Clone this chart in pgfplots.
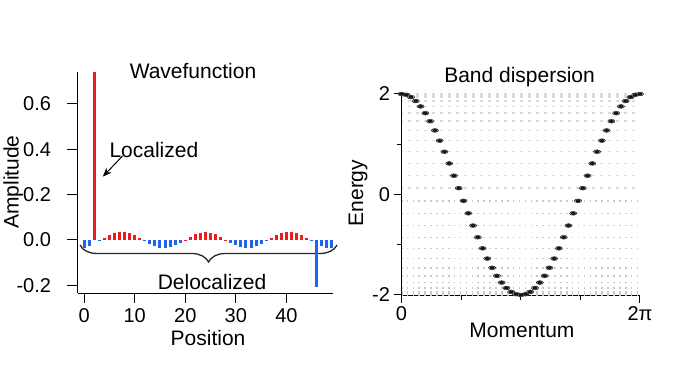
\documentclass[border=0pt]{standalone}
\usepackage{fontspec}
\setmainfont{Liberation Sans}
\usepackage{pgfplots}
\pgfplotsset{compat=1.18}
\usetikzlibrary{decorations.pathreplacing,arrows.meta}
\definecolor{wred}{RGB}{232,30,30}
\definecolor{wblue}{RGB}{30,100,240}
\begin{document}
\begin{tikzpicture}
\path[use as bounding box] (0,0) rectangle (673pt,379pt);
\pgfplotsset{
  every axis/.append style={
    scale only axis,
    axis x line*=bottom, axis y line*=left,
    /pgf/number format/assume math mode=true,
    tick label style={font=\fontsize{20}{24}\selectfont},
    label style={font=\fontsize{21}{25}\selectfont},
    title style={font=\fontsize{21}{25}\selectfont},
    axis line style={line width=0.9pt},
    tick style={line width=1pt, black},
  }
}
% ---------------- Left: Wavefunction ----------------
\begin{axis}[
  at={(77.5pt,86pt)}, anchor=south west,
  width=255.5pt, height=220.5pt,
  tick align=outside,
  xmin=-1.3, xmax=49.2, ymin=-0.2335, ymax=0.7379,
  xtick={0,10,20,30,40}, ytick={-0.2,0,0.2,0.4,0.6},
  yticklabel style={xshift=-13pt, /pgf/number format/.cd, fixed, fixed zerofill, precision=1},
  xticklabel style={yshift=-2pt},
  major tick length=10pt,
  clip=false,
  xlabel={Position}, ylabel={Amplitude},
  xlabel style={at={(axis description cs:0.511,-0.203)}, anchor=center},
  ylabel style={at={(axis description cs:-0.252,0.503)}, anchor=center, rotate=0},
  title={Wavefunction},
  title style={at={(axis description cs:0.452,0.98)}, anchor=center},
]
\draw[black!85, line width=1.3pt, decorate, decoration={brace, mirror, amplitude=17pt}]
  (axis cs:-0.8,-0.022) -- (axis cs:50,-0.022);
\addplot[ycomb, color=wred, line width=3pt, line cap=butt] table {
x y
2 0.7379
4 0.0082
5 0.0203
6 0.0294
7 0.0344
8 0.0344
9 0.0294
10 0.0203
11 0.0082
20 0.0017
21 0.0145
22 0.0253
23 0.0324
24 0.0350
25 0.0324
26 0.0253
27 0.0145
28 0.0017
37 0.0082
38 0.0203
39 0.0294
40 0.0344
41 0.0344
42 0.0294
43 0.0203
44 0.0082
};
\addplot[ycomb, color=wblue, line width=3pt, line cap=butt] table {
x y
0 -0.0336
1 -0.0275
3 -0.0050
12 -0.0050
13 -0.0175
14 -0.0275
15 -0.0336
16 -0.0348
17 -0.0310
18 -0.0229
19 -0.0115
29 -0.0115
30 -0.0229
31 -0.0310
32 -0.0348
33 -0.0336
34 -0.0275
35 -0.0175
36 -0.0050
45 -0.0050
46 -0.2070
47 -0.0275
48 -0.0336
49 -0.0348
};
\node[font=\fontsize{21}{25}\selectfont] at (axis cs:13.8,0.396) {Localized};
\draw[-{Stealth[length=9pt,width=7pt]}, line width=1pt] (axis cs:7.6,0.37) -- (axis cs:3.7,0.279);
\node[font=\fontsize{21}{25}\selectfont] at (axis cs:25.3,-0.185) {Delocalized};
\end{axis}
% ---------------- Right: Band dispersion ----------------
\begin{axis}[
  at={(401.5pt,84pt)}, anchor=south west,
  width=238.5pt, height=201pt,
  tick align=outside,
  xmin=0, xmax=6.2832, ymin=-2, ymax=2,
  xtick={0,6.2832}, xticklabels={0,2π},
  minor xtick={1.5708,3.1416,4.7124},
  ytick={-2,0,2}, minor ytick={-1,1},
  major tick length=8pt, minor tick length=5pt,
  clip=false,
  xlabel={Momentum}, ylabel={Energy},
  xlabel style={at={(axis description cs:0.505,-0.174)}, anchor=center},
  ylabel style={at={(axis description cs:-0.182,0.507)}, anchor=center, rotate=0},
  title={Band dispersion},
  title style={at={(axis description cs:0.495,1.055)}, anchor=center},
]
% faint rows (background weight at each energy level)
\addplot[gray!42, line width=1.5pt, dash pattern=on 1.6pt off 4.3pt, dash phase=0.8pt, unbounded coords=jump] table {
x y
0 -2.0000
6.2832 -2.0000
nan nan
0 -1.9842
6.2832 -1.9842
nan nan
0 -1.9372
6.2832 -1.9372
nan nan
0 -1.8596
6.2832 -1.8596
nan nan
0 -1.7526
6.2832 -1.7526
nan nan
0 -1.6180
6.2832 -1.6180
nan nan
0 -1.4579
6.2832 -1.4579
nan nan
0 -1.2748
6.2832 -1.2748
nan nan
0 -1.0717
6.2832 -1.0717
nan nan
0 -0.8516
6.2832 -0.8516
nan nan
0 -0.6180
6.2832 -0.6180
nan nan
0 -0.3748
6.2832 -0.3748
nan nan
0 -0.1256
6.2832 -0.1256
};
\addplot[gray!28, line width=1.5pt, dash pattern=on 3pt off 5pt, dash phase=1.5pt, unbounded coords=jump] table {
x y
0 0.1256
6.2832 0.1256
nan nan
0 0.3748
6.2832 0.3748
nan nan
0 0.6180
6.2832 0.6180
nan nan
0 0.8516
6.2832 0.8516
nan nan
0 1.0717
6.2832 1.0717
nan nan
0 1.2748
6.2832 1.2748
nan nan
0 1.4579
6.2832 1.4579
nan nan
0 1.6180
6.2832 1.6180
nan nan
0 1.7526
6.2832 1.7526
nan nan
0 1.8596
6.2832 1.8596
nan nan
0 1.9372
6.2832 1.9372
nan nan
0 1.9842
6.2832 1.9842
nan nan
0 2.0000
6.2832 2.0000
};
% dispersion E = 2 cos k
\pgfplotstableread{
k E
0.0000 2.0000
0.1257 1.9842
0.2513 1.9372
0.3770 1.8596
0.5027 1.7526
0.6283 1.6180
0.7540 1.4579
0.8796 1.2748
1.0053 1.0717
1.1310 0.8516
1.2566 0.6180
1.3823 0.3748
1.5080 0.1256
1.6336 -0.1256
1.7593 -0.3748
1.8850 -0.6180
2.0106 -0.8516
2.1363 -1.0717
2.2619 -1.2748
2.3876 -1.4579
2.5133 -1.6180
2.6389 -1.7526
2.7646 -1.8596
2.8903 -1.9372
3.0159 -1.9842
3.1416 -2.0000
3.2673 -1.9842
3.3929 -1.9372
3.5186 -1.8596
3.6442 -1.7526
3.7699 -1.6180
3.8956 -1.4579
4.0212 -1.2748
4.1469 -1.0717
4.2726 -0.8516
4.3982 -0.6180
4.5239 -0.3748
4.6496 -0.1256
4.7752 0.1256
4.9009 0.3748
5.0265 0.6180
5.1522 0.8516
5.2779 1.0717
5.4035 1.2748
5.5292 1.4579
5.6549 1.6180
5.7805 1.7526
5.9062 1.8596
6.0319 1.9372
6.1575 1.9842
6.2832 2.0000
}\disptable
\addplot[only marks, mark=*, mark size=1.9pt, mark options={xscale=1.9, fill=gray!50, draw=none}] table {\disptable};
\addplot[only marks, mark=*, mark size=1.25pt, mark options={xscale=1.7, fill=black!90, draw=none}] table {\disptable};
\end{axis}
\end{tikzpicture}
\end{document}
